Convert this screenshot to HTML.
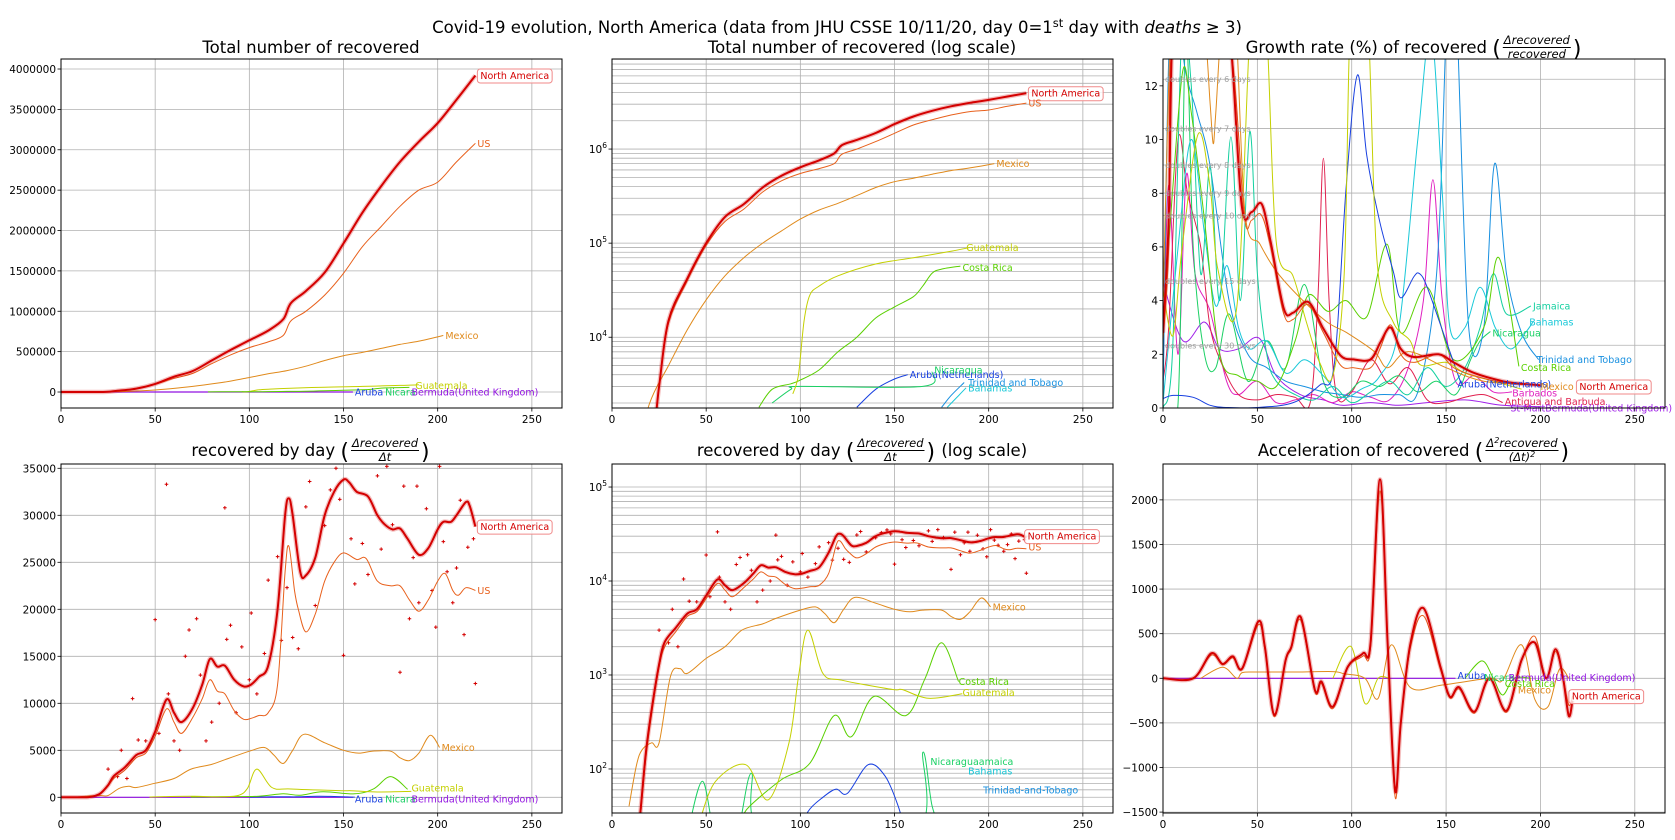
<!DOCTYPE html>
<html><head><meta charset="utf-8">
<style>
body{margin:0;background:#fff}
svg{display:block;font-family:"DejaVu Sans","Liberation Sans",sans-serif}
</style></head>
<body>
<svg id="fig" width="1675" height="840" viewBox="0 0 1675 840"></svg>
<script>
// ---------------- DATA ----------------
const naCumDays = [0,10,20,25,30,40,50,60,70,80,90,100,110,118,122,130,140,150,160,170,180,190,200,210,220];
const naCum = [0,0,500,3000,15000,42000,100000,190000,260000,390000,520000,640000,760000,900000,1100000,1250000,1480000,1840000,2220000,2550000,2850000,3100000,3330000,3620000,3920000];
const usCum = [0,0,500,3000,14000,40000,95000,170000,230000,350000,460000,550000,620000,700000,880000,1000000,1200000,1470000,1800000,2050000,2300000,2500000,2600000,2850000,3080000];
const mxCumDays = [0,10,20,30,40,50,60,70,80,90,100,110,120,130,140,150,160,170,180,190,203];
const mxCum = [0,200,2000,5000,12000,25000,45000,70000,100000,135000,180000,225000,265000,320000,390000,450000,490000,540000,590000,630000,700000];
const gtCumDays = [96,99,102,105,110,120,140,160,180,190];
const gtCum = [2500,4000,15000,28000,35000,45000,60000,70000,82000,90000];
const crCumDays = [78,85,95,100,110,120,130,140,150,160,165,170,175,185];
const crCum = [1800,2800,3200,3500,4500,7000,10000,16000,21000,27000,35000,48000,53000,57000];
const niCumDays = [85,95,100,165,170];
const niCum = [2000,2800,3000,3000,4300];
const arCumDays = [130,140,150,157];
const arCum = [1800,2800,3600,4000];
const ttCumDays = [175,180,187];
const ttCum = [1800,2400,3300];
const bhCumDays = [178,184,188];
const bhCum = [1800,2400,2900];
const smallDays = [0,155];
const smallCum = [0,0];

const naGrDays = [0,3,5,10,20,30,36,41.7,47,52.3,57,64,69,77,85,94,101,110,115.3,120.6,126,133,146,154,165,180,190,200];
const naGr = [2.8,7,14,18,20,16,13.5,7.55,7.3,7.6,6.2,3.7,3.55,3.95,2.95,1.96,1.81,1.81,2.46,3.0,2.2,1.9,2.0,1.7,1.3,1.0,0.9,0.85];
const usGrDays = [0,3,5,20,36,43,47,52,57,64,69,77,85,94,101,110,115,120.6,126,133,146,154,165,180,200];
const usGr = [2.5,6,14,20,13.5,7.2,7.0,7.2,6.0,3.5,3.3,3.85,2.8,1.6,1.5,1.5,2.2,3.1,2.0,1.7,2.0,1.5,1.2,0.95,0.85];
const mxGrDays = [0,5,10,16,22,25,26.6,28,32,38,43.4,51.4,60,72.7,87,97.5,112,119,130,150,170,200];
const mxGr = [4,16,16,14,14,11.3,9.85,11,15,15,7.3,6.1,5.1,4.1,3.2,2.8,2.1,1.5,2.1,1.5,1.0,0.85];
const gtGrDays = [0,5.3,10,18.6,25,29,39,46,50,55,60,69,76,83,90,96,99,104,109,113.5,122,131,136.5,150,160,175,190];
const gtGr = [4.4,2.7,5.9,10.2,8.2,5.2,3.7,14,16,14,6.2,4.9,3.2,1.7,1.2,5,14,20,14,5.4,3.2,2.5,1.6,1.7,1.3,1.0,0.7];
const arGrDays = [0,5.3,16,25,34,50,69,83,90.7,97,103,108,115,122,126,133,136,140,150,158];
const arGr = [0.35,0.47,0.4,0.1,0.02,0.02,0.2,0.85,1.6,8.2,12.4,9.4,6.9,5.1,4.1,4.9,5.0,4.5,2.5,0.9];
const crGrDays = [0,5,10.6,15,22,30,40,50,60,70,77,87.5,97,108,118.7,126,140,154,170,178,188.6];
const crGr = [3,8,12.6,11,7,2,1.2,1.0,0.8,2.5,4.2,3.6,4.0,3.4,6.1,2.8,4.5,1.8,3,5.6,1.55];
const bhGrDays = [0,8,15,22,28,34,40,46,55,65,75,85,95,105,115,125,135,142,148,152,160,168,176,184,192,196];
const bhGr = [0.2,6,10,6.5,3.8,5.3,3.0,2.2,2.5,1.3,1.8,1.2,0.4,0.7,1.2,3,10,14,8,3,3,4.5,3,2.2,2.8,3.2];
const jmGrDays = [0,5,10,15,20,25,30,36,41,46,50,55,60,70,80,90,100,110,120,130,140,150,160,168,175,182,195];
const jmGr = [0,2,14,12,5,9,4,10.1,4,10.3,5,2,1,0.5,0.3,0.8,0.2,0.6,1,0.5,1.5,0.8,1.5,3,5.0,3.5,3.8];
const ttGrDays = [0,3,7,12,18,25,35,45,55,65,75,85,95,105,115,125,135,145,150,153,156,162,170,175.7,182,190,199];
const ttGr = [0,13,15,12.5,11,9,4,2,1.5,1,0.8,0.6,0.5,0.4,0.5,0.5,0.6,5,14,18,14,3,3,9.1,5,2.8,1.8];
const niGrDays = [0,8,12,16,22,28,35,45,55,65,75,85,95,105,115,125,135,145,155,163,168,173.5];
const niGr = [0,0.2,14,6,2,1.5,3.5,1.0,2.5,1.5,4.6,1.0,0.4,1.0,0.8,1.2,0.6,1.0,0.5,1.8,2.5,2.85];
const cmGrDays = [0,3,8,13,20,25,32,40,50,60,70,78,82,85,88,92,100,110,120,130,140,150,160,170,180];
const cmGr = [1,3,10,8,6,3,1.5,0.5,0.3,0.5,0.4,0.2,4,9.3,4,0.5,0.6,1.8,0.9,1.5,0.3,0.2,0.4,0.5,0.2];
const bbGrDays = [0,3,8,12.4,17,25,33.7,40,50,60,70,80,90,100,110,120,130,138,143,148,155,165,175,185];
const bbGr = [1,8.3,2,8.7,5,3.6,1.0,0.5,1,0.2,0.3,0.5,0.2,0.6,0.4,0.3,1.5,4,8.5,4,1,1.2,0.6,0.6];
const puGrDays = [0,10.6,22,30,40,51,60,72.7,85,95,110,125,140,160,180,200];
const puGr = [4.7,2.5,3.2,2.2,2.2,2.6,1.2,0.5,0.3,0.1,0.2,0.1,0.2,0.3,0.1,0.05];
const doublingDays = [6,7,8,9,10,15,30];

const naDailyDays = [0,12,15,18,21,25,28,34,40,45,50,56,60,64,70,75,79,83,87,92,97,101,105,110,115,119,121,123,127,130,135,140,145,150,153,157,163,168,172,176,180,184,190,195,200,203,207,210,215,217,220];
const naDaily = [0,10,34,150,425,1300,2240,3200,4500,5000,7000,10400,9000,8000,9500,12000,14700,13900,14000,12500,11800,12000,12800,14000,20000,30000,31800,30000,24000,23600,25500,30000,32500,33800,33500,32500,32000,30000,29000,28500,28600,27500,25800,26500,28500,29300,29300,30000,31400,31000,28800];
const usDailyDays = [0,12,15,18,21,25,28,34,40,45,50,56,60,64,70,75,79,83,87,92,97,101,105,110,115,119,121,124,126,130,135,140,145,150,157,162,168,175,180,185,190,195,200,204,208,211,215,220];
const usDaily = [0,8,30,130,380,1200,2000,2900,4200,4700,6500,9400,8000,6800,8500,10500,12500,11300,11000,9200,8300,8400,8700,9000,12000,24000,26700,22000,20000,17600,19500,23000,25000,26000,25300,25400,23000,22500,22500,21000,19800,21000,23000,23800,22000,21500,22300,22000];
const mxDailyDays = [9,13,16,21,25,31,36,40,50,60,69,80,87,100,108,113,118,123,129,140,150,158,165,175,180,185,190,196,201];
const mxDaily = [40,110,160,190,190,960,1170,1040,1500,2000,3000,3500,4000,4900,5300,4500,3600,5000,6700,5800,5000,4700,4900,4900,4200,3900,4700,6600,5300];
const gtDailyDays = [47,55,71,83,94,99,104,112,122,149,154,168,186];
const gtDaily = [30,74,111,47,190,960,3000,1040,880,700,700,565,630];
const crDailyDays = [69,73,90,105,118,127,139,156,166,175,184];
const crDaily = [30,40,77,115,370,220,590,370,900,2200,850];
const niDailyDays = [40,48,55,66,74,82,160,165,170,176];
const niDaily = [20,74,20,20,90,20,20,150,40,20];
const arDailyDays = [100,104,112,119,125,136,145,152,156];
const arDaily = [20,35,50,61,55,111,84,40,20];
const naScatDays = [25,30,32,35,38,41,45,50,52,56,57,60,63,66,68,72,74,77,80,84,87,88,90,93,96,100,101,104,108,110,115,117,120,123,126,130,132,135,140,143,146,148,150,154,156,160,163,168,170,173,176,180,182,185,187,189,190,194,197,199,201,203,205,208,210,212,214,216,219,220];
const naScatVals = [3000,2200,5000,2000,10500,6100,6000,18900,6800,33300,11000,6000,5000,15000,17800,19000,13000,6000,8000,10000,30800,16800,18300,9000,16000,12500,19600,11000,15300,23100,25600,16700,22300,17000,15800,30900,33600,20400,28900,32700,35000,31700,15100,27500,22700,27000,23700,34200,26400,35200,29000,13300,33100,19000,25500,33100,20700,30700,22000,18100,35200,27200,24000,20700,24400,31600,17300,26600,27500,12100];

const naAccDays = [0,16,25.6,31.6,37,42,50.5,54,59,65,68,73,80.5,84,90,98,106,110,115,119,123,126,131,138,147,152,157,165,173,182,190,197,203,208,212,215,217];
const naAcc = [0,0,280,160,245,112,637,350,-412,206,350,685,-131,-37,-318,131,280,400,2229,400,-1255,-500,375,787,131,-206,-101,-375,0,-363,206,400,0,326,0,-423,-250];
const usAcc = [0,0,260,150,230,100,600,320,-430,190,330,650,-150,-60,-340,120,250,350,2100,380,-1330,-520,330,700,100,-220,-120,-390,0,-380,190,470,0,300,0,-300,-200];
const mxAccDays = [20,31.6,39,42,50,70,90,96,107,114,121,131,148,173,180,190,197,204,210,215];
const mxAcc = [0,124,0,64,70,70,75,50,0,-225,375,-101,-75,0,-20,375,-236,-318,100,0];
const gtAccDays = [90,99.6,107,114,120];
const gtAcc = [0,356,-281,0,0];
const crAccDays = [160,169,175,180,186,195];
const crAcc = [0,195,0,-187,0,0];

const xTicks = [0,50,100,150,200,250];

// ---------------- DRAWING ----------------
const NS='http://www.w3.org/2000/svg';
const svg=document.getElementById('fig');
const XMAX=266;
function mk(tag, attrs, parent){const e=document.createElementNS(NS,tag);for(const k in attrs)e.setAttribute(k,attrs[k]);(parent||svg).appendChild(e);return e;}

const C={na:'#d40000',us:'#e8601c',mx:'#e08a1c',gt:'#c4d000',cr:'#5ad000',ni:'#1ad064',jm:'#14d0a0',bh:'#18c8d8',tt:'#1890e0',ar:'#1840e0',bb:'#e020c0',cm:'#e0204e',pu:'#a020e8',bm:'#9010e0'};

let clipN=0;
function makePanel(name,x0,x1,y0,y1,ymin,ymax,log){
  const P={x0,x1,y0,y1,ymin,ymax,log};
  P.sx=d=>x0+d/XMAX*(x1-x0);
  const lmin=Math.log10(ymin), lmax=Math.log10(ymax);
  P.sy=v=>{ if(log){ if(v<=0) return y1+60; const y=y1-(Math.log10(v)-lmin)/(lmax-lmin)*(y1-y0); return Math.min(y,y1+60);} return y1-(v-ymin)/(ymax-ymin)*(y1-y0); };
  const g=mk('g',{});
  
  
  const cp=mk('clipPath',{id:'cp'+(++clipN)},g);
  mk('rect',{x:x0,y:y0,width:x1-x0,height:y1-y0},cp);
  P.g=g;
  P.grid=mk('g',{},g);
  
  
  P.plot=mk('g',{'clip-path':'url(#cp'+clipN+')'},g);
  
  
  P.over=mk('g',{},g);
  xTicks.forEach(d=>{
    const x=P.sx(d);
    const gl=mk('line',{x1:x,x2:x,y1:y0,y2:y1,stroke:'#b0b0b0','stroke-width':0.8},P.grid);
    
    
    mk('line',{x1:x,x2:x,y1:y1,y2:y1+3.5,stroke:'#000','stroke-width':0.8},P.over);
    const t=mk('text',{x:x,y:y1+15,'font-size':10.5,'text-anchor':'middle',fill:'#000'},P.over);
    t.textContent=d;
    
    
  });
  return P;
}
function hgrid(P,v){
  const y=P.sy(v);
  const gl=mk('line',{x1:P.x0,x2:P.x1,y1:y,y2:y,stroke:'#b0b0b0','stroke-width':0.8},P.grid);
  
  
}
function ytick(P,v,label,sup){
  const y=P.sy(v);
  mk('line',{x1:P.x0-3.5,x2:P.x0,y1:y,y2:y,stroke:'#000','stroke-width':0.8},P.over);
  const t=mk('text',{x:P.x0-5,y:y+4,'font-size':10.5,'text-anchor':'end',fill:'#000'},P.over);
  
  
  if(sup){ t.textContent=label; const s=mk('tspan',{dy:-5,'font-size':7.5},t); s.textContent=sup; }
  else t.textContent=label;
}
function linearTicks(P,vals,fmt){ vals.forEach(v=>{hgrid(P,v); ytick(P,v,fmt?fmt(v):String(v));}); }
function logTicks(P,kmin,kmax){
  for(let k=kmin-1;k<=kmax+1;k++){ for(let m=1;m<10;m++){ const v=m*Math.pow(10,k); if(v>=P.ymin&&v<=P.ymax){ hgrid(P,v); if(m===1) ytick(P,v,'10',String(k)); } } }
}
function frame(P){
  const r=mk('rect',{x:P.x0,y:P.y0,width:P.x1-P.x0,height:P.y1-P.y0,fill:'none',stroke:'#000','stroke-width':1},P.over);
  
  
}
function smooth(pts){
  let d='M'+pts[0][0].toFixed(1)+','+pts[0][1].toFixed(1);
  for(let i=0;i<pts.length-1;i++){
    const p0=pts[i-1]||pts[i],p1=pts[i],p2=pts[i+1],p3=pts[i+2]||pts[i+1];
    const c1x=p1[0]+(p2[0]-p0[0])/6,c1y=p1[1]+(p2[1]-p0[1])/6;
    const c2x=p2[0]-(p3[0]-p1[0])/6,c2y=p2[1]-(p3[1]-p1[1])/6;
    d+=' C'+c1x.toFixed(1)+','+c1y.toFixed(1)+' '+c2x.toFixed(1)+','+c2y.toFixed(1)+' '+p2[0].toFixed(1)+','+p2[1].toFixed(1);
  }
  return d;
}
function series(P,days,vals,color,w,name){
  const pts=days.map((d,i)=>[P.sx(d),P.sy(vals[i])]);
  if(w>1.5){
    const halo=mk('path',{d:smooth(pts),fill:'none',stroke:color,'stroke-width':w+2.5,'stroke-opacity':0.25,'stroke-linejoin':'round'},P.plot);
    
    
  }
  const p=mk('path',{d:smooth(pts),fill:'none',stroke:color,'stroke-width':w,'stroke-linejoin':'round'},P.plot);
  
  
  return p;
}
function scatter(P,days,vals,color,name){
  const g=mk('g',{stroke:color,'stroke-width':1},P.plot);
  
  
  days.forEach((d,i)=>{
    const x=P.sx(d),y=P.sy(vals[i]);
    const pt=mk('path',{d:`M${x-1.8},${y}h3.6M${x},${y-1.8}v3.6`},g);
    
    
  });
}
function label(P,d,v,text,color,boxed,name){
  const x=P.sx(d)+2,y=P.sy(v)+3.5;
  const t=mk('text',{x:x+(boxed?3:0),y:y,'font-size':9.5,fill:color},P.over);
  t.textContent=text;
  
  
  if(boxed){
    const w=t.getComputedTextLength();
    const r=mk('rect',{x:x,y:y-10,width:w+6,height:14,rx:3,fill:'#fff','fill-opacity':0.8,stroke:'#f08a8a','stroke-width':1},P.over);
    
    
    P.over.appendChild(t);
  }
}

function title(cx,B,pieces,name){
  const g=mk('g',{});
  
  
  let x=0;
  pieces.forEach(p=>{
    if(p.t==='text'){
      const t=mk('text',{x:x,y:B,'font-size':16.5,fill:'#000'},g);
      t.textContent=p.s.replace(/ /g,'\u00a0'); x+=t.getComputedTextLength();
    } else if(p.t==='paren'){
      const t=mk('text',{x:x,y:B+3,'font-size':22,fill:'#000'},g);
      t.textContent=p.s; x+=t.getComputedTextLength()+1;
    } else {
      const n=mk('text',{x:0,y:B-9,'font-size':11.5,'font-style':'italic',fill:'#000'},g);
      n.textContent=p.num;
      if(p.nsup){const s=mk('tspan',{dy:-4,'font-size':8},n);s.textContent=p.nsup;const s2=mk('tspan',{dy:4},n);s2.textContent=p.num2;}
      const dn=mk('text',{x:0,y:B+5,'font-size':11.5,'font-style':'italic',fill:'#000'},g);
      dn.textContent=p.den;
      if(p.dsup){const s=mk('tspan',{dy:-4,'font-size':8},dn);s.textContent=p.dsup;}
      const wn=n.getComputedTextLength(),wd=dn.getComputedTextLength(),w=Math.max(wn,wd)+4;
      n.setAttribute('x',x+(w-wn)/2); dn.setAttribute('x',x+(w-wd)/2);
      mk('line',{x1:x+1,x2:x+w-1,y1:B-5.5,y2:B-5.5,stroke:'#000','stroke-width':0.9},g);
      x+=w+1;
    }
  });
  g.setAttribute('transform','translate('+(cx-x/2)+',0)');
}

(function(){
  const t=mk('text',{x:837,y:33,'font-size':16.5,'text-anchor':'middle',fill:'#000'});
  
  
  const a=mk('tspan',{},t); a.textContent='Covid-19 evolution, North America (data from JHU CSSE 10/11/20, day 0=1';
  const b=mk('tspan',{dy:-6,'font-size':11.5},t); b.textContent='st';
  const c=mk('tspan',{dy:6},t); c.textContent='\u00a0day with\u00a0';
  const d=mk('tspan',{'font-style':'italic'},t); d.textContent='deaths';
  const e=mk('tspan',{},t); e.textContent='\u00a0≥ 3)';
})();
title(311,53,[{t:'text',s:'Total number of recovered'}],'panel1-title');
title(862,53,[{t:'text',s:'Total number of recovered (log scale)'}],'panel2-title');
title(1414,53,[{t:'text',s:'Growth rate (%) of recovered '},{t:'paren',s:'('},{t:'frac',num:'Δrecovered',den:'recovered'},{t:'paren',s:')'}],'panel3-title');
title(311,456,[{t:'text',s:'recovered by day '},{t:'paren',s:'('},{t:'frac',num:'Δrecovered',den:'Δt'},{t:'paren',s:')'}],'panel4-title');
title(862,456,[{t:'text',s:'recovered by day '},{t:'paren',s:'('},{t:'frac',num:'Δrecovered',den:'Δt'},{t:'paren',s:')'},{t:'text',s:' (log scale)'}],'panel5-title');
title(1414,456,[{t:'text',s:'Acceleration of recovered '},{t:'paren',s:'('},{t:'frac',num:'Δ',nsup:'2',num2:'recovered',den:'(Δt)',dsup:'2'},{t:'paren',s:')'}],'panel6-title');

const P1=makePanel('panel-total-linear',61,562,59,408,-198000,4124000,false);
linearTicks(P1,[0,500000,1000000,1500000,2000000,2500000,3000000,3500000,4000000]);
series(P1,smallDays,smallCum,C.bm,1.2,'line-bermuda');
series(P1,gtCumDays,gtCum,C.gt,1,'line-guatemala');
series(P1,crCumDays,crCum,C.cr,1,'line-costa-rica');
series(P1,mxCumDays,mxCum,C.mx,1,'line-mexico');
series(P1,naCumDays,usCum,C.us,1,'line-us');
series(P1,naCumDays,naCum,C.na,2,'line-north-america');
label(P1,220,3920000,'North America',C.na,true,'label-north-america');
label(P1,220,3080000,'US',C.us,false,'label-us');
label(P1,203,700000,'Mexico',C.mx,false,'label-mexico');
label(P1,187,80000,'Guatemala',C.gt,false,'label-guatemala');
label(P1,155,0,'Aruba',C.ar,false,'label-aruba');
label(P1,171,0,'Nicara',C.ni,false,'label-nicaragua');
label(P1,185,0,'Bermuda(United Kingdom)',C.bm,false,'label-bermuda');
frame(P1);

const P2=makePanel('panel-total-log',612,1113,59,408,1770,9.06e6,true);
logTicks(P2,3,6);
series(P2,ttCumDays,ttCum,C.tt,1,'line-trinidad');
series(P2,bhCumDays,bhCum,C.bh,1,'line-bahamas');
series(P2,arCumDays,arCum,C.ar,1,'line-aruba');
series(P2,niCumDays,niCum,C.ni,1,'line-nicaragua');
series(P2,crCumDays,crCum,C.cr,1,'line-costa-rica');
series(P2,gtCumDays,gtCum,C.gt,1,'line-guatemala');
series(P2,mxCumDays,mxCum,C.mx,1,'line-mexico');
series(P2,naCumDays,usCum,C.us,1,'line-us');
series(P2,naCumDays,naCum,C.na,2,'line-north-america');
label(P2,220,3920000,'North America',C.na,true,'label-north-america');
label(P2,220,3080000,'US',C.us,false,'label-us');
label(P2,203,700000,'Mexico',C.mx,false,'label-mexico');
label(P2,187,90000,'Guatemala',C.gt,false,'label-guatemala');
label(P2,185,55000,'Costa Rica',C.cr,false,'label-costa-rica');
label(P2,157,4000,'Aruba(Netherlands)',C.ar,false,'label-aruba');
label(P2,170,4500,'Nicaragua',C.ni,false,'label-nicaragua');
label(P2,188,3300,'Trinidad and Tobago',C.tt,false,'label-trinidad');
label(P2,188,2900,'Bahamas',C.bh,false,'label-bahamas');
frame(P2);

const P3=makePanel('panel-growth-rate',1163,1665,59,408,0,13.0,false);
doublingDays.forEach(n=>{
  const v=(Math.pow(2,1/n)-1)*100;
  hgrid(P3,v);
  const t=mk('text',{x:P3.x0+2,y:P3.sy(v)+3,'font-size':8,fill:'#a0a0a0'},P3.over);
  t.textContent='doubles every '+n+' days';
  
  
});
[0,2,4,6,8,10,12].forEach(v=>ytick(P3,v,String(v)));
series(P3,puGrDays,puGr,C.pu,1,'line-st-martin');
series(P3,bbGrDays,bbGr,C.bb,1,'line-barbados');
series(P3,cmGrDays,cmGr,C.cm,1,'line-antigua');
series(P3,niGrDays,niGr,C.ni,1,'line-nicaragua');
series(P3,ttGrDays,ttGr,C.tt,1,'line-trinidad');
series(P3,jmGrDays,jmGr,C.jm,1,'line-jamaica');
series(P3,bhGrDays,bhGr,C.bh,1,'line-bahamas');
series(P3,crGrDays,crGr,C.cr,1,'line-costa-rica');
series(P3,arGrDays,arGr,C.ar,1,'line-aruba');
series(P3,gtGrDays,gtGr,C.gt,1,'line-guatemala');
series(P3,mxGrDays,mxGr,C.mx,1,'line-mexico');
series(P3,usGrDays,usGr,C.us,1,'line-us');
series(P3,naGrDays,naGr,C.na,2,'line-north-america');
label(P3,195,3.8,'Jamaica',C.jm,false,'label-jamaica');
label(P3,193,3.2,'Bahamas',C.bh,false,'label-bahamas');
label(P3,173.5,2.8,'Nicaragua',C.ni,false,'label-nicaragua');
label(P3,197,1.8,'Trinidad and Tobago',C.tt,false,'label-trinidad');
label(P3,188.6,1.5,'Costa Rica',C.cr,false,'label-costa-rica');
label(P3,155,0.9,'Aruba(Netherlands)',C.ar,false,'label-aruba');
label(P3,199,0.8,'Mexico',C.mx,false,'label-mexico');
label(P3,218,0.8,'North America',C.na,true,'label-north-america');
label(P3,184,0.55,'Barbados',C.bb,false,'label-barbados');
label(P3,180,0.25,'Antigua and Barbuda',C.cm,false,'label-antigua');
label(P3,183,0.0,'St-MartBermuda(United Kingdom)',C.pu,false,'label-st-martin');
frame(P3);

const P4=makePanel('panel-daily-linear',61,562,464,813,-1670,35457,false);
linearTicks(P4,[0,5000,10000,15000,20000,25000,30000,35000]);
scatter(P4,naScatDays,naScatVals,C.na,'scatter-north-america');
series(P4,smallDays,smallCum,C.bm,1.2,'line-bermuda');
series(P4,arDailyDays,arDaily,C.ar,1,'line-aruba');
series(P4,crDailyDays,crDaily,C.cr,1,'line-costa-rica');
series(P4,gtDailyDays,gtDaily,C.gt,1,'line-guatemala');
series(P4,mxDailyDays,mxDaily,C.mx,1,'line-mexico');
series(P4,usDailyDays,usDaily,C.us,1,'line-us');
series(P4,naDailyDays,naDaily,C.na,2,'line-north-america');
label(P4,220,28800,'North America',C.na,true,'label-north-america');
label(P4,220,22000,'US',C.us,false,'label-us');
label(P4,201,5300,'Mexico',C.mx,false,'label-mexico');
label(P4,185,1000,'Guatemala',C.gt,false,'label-guatemala');
label(P4,155,-200,'Aruba',C.ar,false,'label-aruba');
label(P4,171,-200,'Nicara',C.ni,false,'label-nicaragua');
label(P4,185,-200,'Bermuda(United Kingdom)',C.bm,false,'label-bermuda');
frame(P4);

const P5=makePanel('panel-daily-log',612,1113,464,813,34,175800,true);
logTicks(P5,2,5);
scatter(P5,naScatDays,naScatVals,C.na,'scatter-north-america');
series(P5,arDailyDays,arDaily,C.ar,1,'line-aruba');
series(P5,niDailyDays,niDaily,C.ni,1,'line-nicaragua');
series(P5,crDailyDays,crDaily,C.cr,1,'line-costa-rica');
series(P5,gtDailyDays,gtDaily,C.gt,1,'line-guatemala');
series(P5,mxDailyDays,mxDaily,C.mx,1,'line-mexico');
series(P5,usDailyDays,usDaily,C.us,1,'line-us');
series(P5,naDailyDays,naDaily,C.na,2,'line-north-america');
label(P5,218,30000,'North America',C.na,true,'label-north-america');
label(P5,220,23000,'US',C.us,false,'label-us');
label(P5,201,5300,'Mexico',C.mx,false,'label-mexico');
label(P5,183,850,'Costa Rica',C.cr,false,'label-costa-rica');
label(P5,185,650,'Guatemala',C.gt,false,'label-guatemala');
label(P5,168,120,'Nicaraguaamaica',C.ni,false,'label-nicaragua');
label(P5,188,95,'Bahamas',C.bh,false,'label-bahamas');
label(P5,196,60,'Trinidad-and-Tobago',C.tt,false,'label-trinidad');
frame(P5);

const P6=makePanel('panel-acceleration',1163,1665,464,813,-1510,2402,false);
linearTicks(P6,[-1500,-1000,-500,0,500,1000,1500,2000],v=>String(v).replace('-','−'));
series(P6,smallDays,smallCum,C.bm,1.2,'line-bermuda');
series(P6,crAccDays,crAcc,C.cr,1,'line-costa-rica');
series(P6,gtAccDays,gtAcc,C.gt,1,'line-guatemala');
series(P6,mxAccDays,mxAcc,C.mx,1,'line-mexico');
series(P6,naAccDays,usAcc,C.us,1,'line-us');
series(P6,naAccDays,naAcc,C.na,2,'line-north-america');
label(P6,155,30,'Aruba',C.ar,false,'label-aruba');
label(P6,169,10,'Nicara',C.ni,false,'label-nicaragua');
label(P6,182,10,'Bermuda(United Kingdom)',C.bm,false,'label-bermuda');
label(P6,180,-60,'Costa Rica',C.cr,false,'label-costa-rica');
label(P6,187,-130,'Mexico',C.mx,false,'label-mexico');
label(P6,214,-200,'North America',C.na,true,'label-north-america');
frame(P6);
</script>
</body></html>
